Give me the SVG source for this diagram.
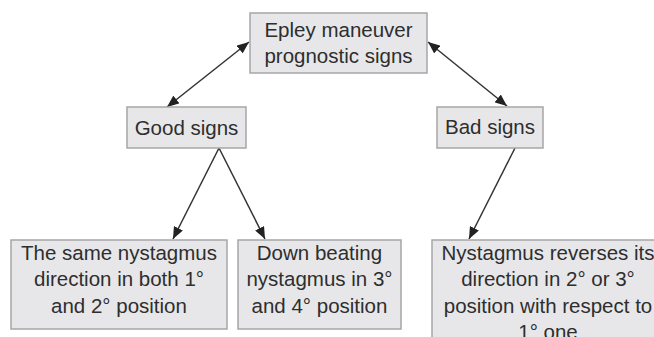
<svg xmlns="http://www.w3.org/2000/svg" width="654" height="337" viewBox="0 0 654 337">
<defs>
<marker id="ah" viewBox="0 0 12 10" refX="12" refY="5" markerWidth="12" markerHeight="10" markerUnits="userSpaceOnUse" orient="auto-start-reverse">
<path d="M0,0 L12,5 L0,10 Z" fill="#222"/>
</marker>
<style>
.box{fill:#e7e7e9;stroke:#a6a6a8;stroke-width:1.5}
.t{font-family:"Liberation Sans",Arial,sans-serif;font-size:20.5px;fill:#2e2e2e;text-anchor:middle}
.c{stroke:#333;stroke-width:1.5;fill:none}
</style>
</defs>
<rect width="654" height="337" fill="#fff"/>
<g id="connectors">
<line class="c" x1="167" y1="107" x2="249" y2="42" marker-start="url(#ah)" marker-end="url(#ah)"/>
<line class="c" x1="428" y1="42" x2="507" y2="106" marker-start="url(#ah)" marker-end="url(#ah)"/>
<line class="c" x1="219" y1="148" x2="173" y2="239" marker-end="url(#ah)"/>
<line class="c" x1="219" y1="148" x2="265" y2="239" marker-end="url(#ah)"/>
<line class="c" x1="515" y1="148" x2="469" y2="239" marker-end="url(#ah)"/>
</g>
<g id="root">
<rect class="box" x="250" y="13" width="177" height="60"/>
<text class="t" x="338.5" y="37">Epley maneuver</text>
<text class="t" x="338.5" y="63">prognostic signs</text>
</g>
<g id="good">
<rect class="box" x="127" y="107" width="119" height="41"/>
<text class="t" x="186.5" y="135">Good signs</text>
</g>
<g id="bad">
<rect class="box" x="437" y="107" width="106" height="41"/>
<text class="t" x="490" y="134">Bad signs</text>
</g>
<g id="same">
<rect class="box" x="11" y="240" width="216" height="89"/>
<text class="t" x="119" y="260">The same nystagmus</text>
<text class="t" x="119" y="286">direction in both 1°</text>
<text class="t" x="119" y="313">and 2° position</text>
</g>
<g id="down">
<rect class="box" x="238" y="240" width="163" height="89"/>
<text class="t" x="319.5" y="260">Down beating</text>
<text class="t" x="319.5" y="286">nystagmus in 3°</text>
<text class="t" x="319.5" y="313">and 4° position</text>
</g>
<g id="reverse">
<rect class="box" x="432" y="240" width="232" height="110"/>
<text class="t" x="548" y="260">Nystagmus reverses its</text>
<text class="t" x="548" y="286">direction in 2° or 3°</text>
<text class="t" x="548" y="313">position with respect to</text>
<text class="t" x="548" y="339">1° one</text>
</g>
</svg>
